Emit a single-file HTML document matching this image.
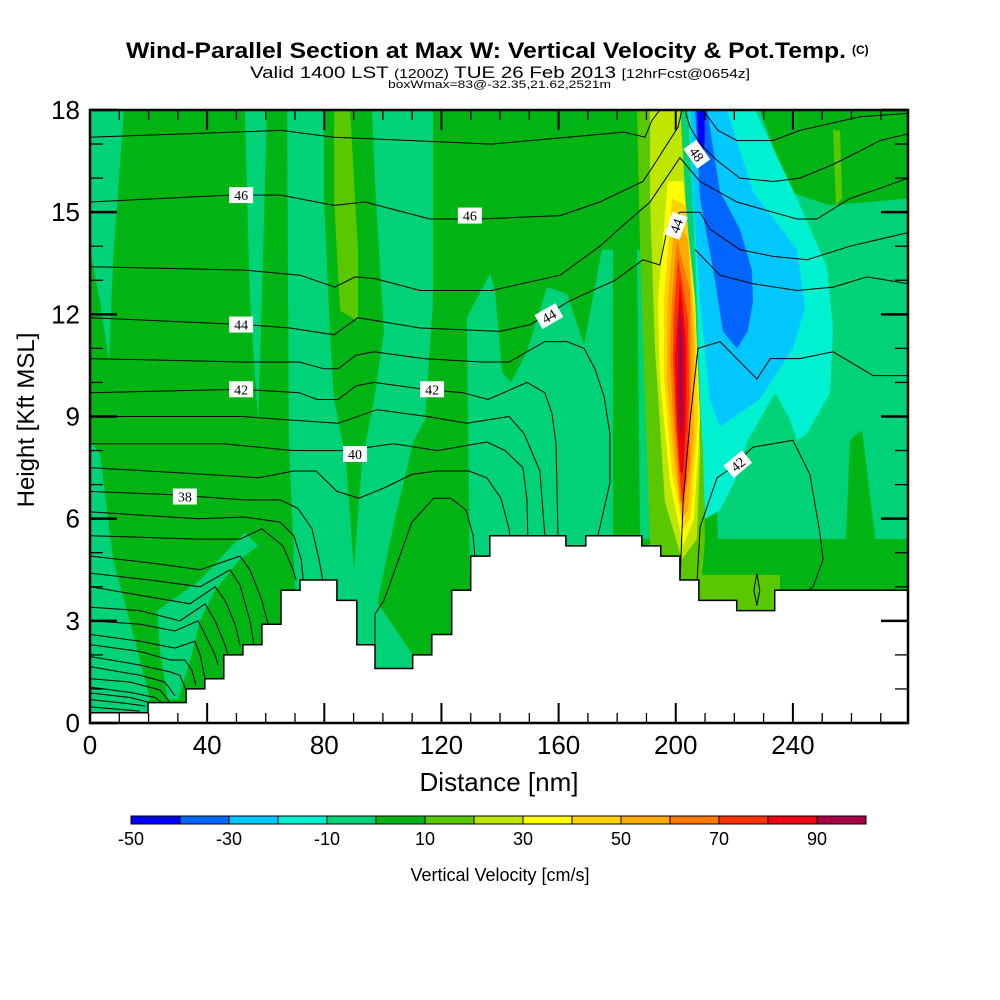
<!DOCTYPE html>
<html><head><meta charset="utf-8">
<style>
html,body{margin:0;padding:0;background:#fff;}
svg{display:block;font-family:"Liberation Sans",sans-serif;}
</style></head>
<body>
<svg id="chart" width="1000" height="1000" viewBox="0 0 1000 1000" xmlns="http://www.w3.org/2000/svg">
  <defs><clipPath id="plotclip"><rect x="90" y="110" width="818" height="613"/></clipPath></defs>
  <g>
    <text x="126" y="58" font-size="22" font-weight="bold" textLength="720" lengthAdjust="spacingAndGlyphs">Wind-Parallel Section at Max W: Vertical Velocity &amp; Pot.Temp.</text>
    <text x="852" y="54" font-size="12" font-weight="bold">(C)</text>
    <text x="250" y="78" font-size="17" textLength="500" lengthAdjust="spacingAndGlyphs">Valid 1400 LST <tspan font-size="13">(1200Z)</tspan> TUE 26 Feb 2013 <tspan font-size="13">[12hrFcst@0654z]</tspan></text>
    <text x="388" y="88" font-size="11" textLength="223" lengthAdjust="spacingAndGlyphs">boxWmax=83@-32.35,21.62,2521m</text>
  </g>
  <g id="field" clip-path="url(#plotclip)"></g>
  <g id="isen" clip-path="url(#plotclip)"></g>
  <g id="terrain"></g>
  <g id="labels"></g>
  <g id="axes"></g>
  <g id="cbar"></g>
  <text x="499" y="791" font-size="26" text-anchor="middle">Distance [nm]</text>
  <text transform="translate(34,420) rotate(-90)" font-size="24" text-anchor="middle">Height [Kft MSL]</text>
  <text x="500" y="881" font-size="18" text-anchor="middle">Vertical Velocity [cm/s]</text>
</svg>
<script>
// ---- data ----
const levelColors = ["#0000ff","#0066ff","#00c8ff","#00f0d2","#00d278","#00b414","#5ac800","#bee600","#ffff00","#ffd200","#ffaa00","#ff7800","#ff3200","#f00014","#aa0046"];
const levelLabels = ["-50","-30","-10","10","30","50","70","90"];
const xTicks = [0,40,80,120,160,200,240];
const yTicks = [0,3,6,9,12,15,18];
const baseLevel = 5;
// regions: [level index, [[nm,kft],...]] painted in order
const regionLevels = [4,4,4,4,4,4,5,6,4,4,4,4,5,5,5,6,3,2,1,0,6,6,7,8,9,10,11,12,13,14];
const regionPts = [
 [[0,18],[11.6,18],[7.9,13.6],[6.5,10.6],[3.4,12.4],[0,13.9]],
 [[0,8.3],[3.4,7.9],[7.9,4.8],[15.4,2.4],[20.5,0.7],[19.8,0.3],[0,0.3]],
 [[22.9,3.3],[37.6,4.2],[48.5,5.2],[52.9,5.6],[57.4,5.2],[51.2,4.8],[42.7,3.9],[37.6,3.0],[34.1,1.8],[30,0.7],[26.6,0.7],[23.9,2.1]],
 [[52.9,18],[60.4,18],[58.7,12.4],[57.4,8.9],[54.6,12.4]],
 [[67.3,18],[117.1,18],[117.1,12.4],[114.4,8.9],[110.6,8.3],[104.1,6.0],[98.3,3.6],[97.6,0.7],[71.7,0.7],[67.9,8.3]],
 [[97.6,3.6],[110.3,2.0],[110.3,1.3],[97.6,1.3]],
 [[79.9,18],[96.3,18],[97.6,15.4],[100.4,11.5],[97,9.5],[92.9,7.7],[90.1,4.5],[87.4,7.7],[83.3,9.5],[81.9,11.5],[79.9,15.4]],
 [[83.3,18],[88.8,18],[91.5,13.9],[91.5,11.8],[85.4,12.1],[83.3,15.4]],
 [[128.7,11.9],[136.6,13.2],[138.3,12.7],[140.7,10.3],[143.7,10.0],[149.2,10.9],[156,12.8],[162.9,12.6],[168.7,11.1],[174.8,13.9],[178.6,13.9],[178.6,4],[129.7,4]],
 [[186.8,13.9],[189.5,13.9],[191.9,5.4],[187.8,5.4]],
 [[221.9,18],[228.7,18],[238.9,15.6],[252.6,15.2],[279.3,15.4],[279.3,4.8],[210,4.8],[209.3,9.5]],
 [[201.8,18],[206.6,18],[212.4,9.5],[211.7,5.4],[208.3,5.4]],
 [[208.3,5.4],[279.3,5.4],[279.3,3.6],[208.3,3.6]],
 [[259.5,8.3],[263.6,8.6],[269,4.8],[257.8,4.8]],
 [[208.3,8.9],[213.4,8.3],[214.4,5.4],[209.3,5.4]],
 [[253.7,17.4],[256.1,17.4],[256.8,15.4],[254.7,15.2]],
 [[204.2,18],[227.1,18],[241.4,15.4],[251.6,13.4],[253.7,11.6],[252.7,9.7],[244.8,8.5],[241.4,8.3],[239,8.9],[233.9,9.7],[228.7,8.9],[224.6,8.3],[220.2,7.1],[215.1,6.25],[210,6.0],[208.3,9.5],[206.6,13.9]],
 [[204.9,18],[217.5,18],[226.4,15.6],[241.4,13.9],[244.1,12.2],[240,11.0],[228.7,9.5],[215.1,8.7],[211.7,9.5],[208.3,12.4],[206,15.4]],
 [[206.6,18],[210.7,18],[215.1,15.6],[221.9,14.5],[226,13.3],[226.4,12.4],[224.6,11.5],[220.9,11.0],[216.1,11.5],[213.4,13.0],[208.3,15.4]],
 [[207.2,18],[209.9,18],[209.9,17.1],[208.9,16.3],[207.6,17.1]],
 [[204.9,4.35],[235.6,4.35],[235.6,3.2],[204.9,3.2]],
 [[186.8,18],[201.8,18],[204.9,12.4],[209.3,8.0],[210,5.4],[208.3,3.6],[201.5,4.2],[191.2,5.2],[189.5,9.5],[187.8,13.9]],
 [[191.2,18],[201.5,18],[205.5,12.4],[208.3,8.0],[207.2,5.4],[202.1,4.8],[196.3,6.5],[192.9,11.0],[191.2,15.4]],
 [[197.3,15.9],[202.5,15.9],[206.6,12.4],[208.3,8.9],[206.2,6.0],[202.5,5.2],[198,7.1],[194.6,10.1],[193.9,12.4]],
 [[198.7,15.4],[203.5,15.2],[206.9,11.5],[207.6,8.9],[204.9,6.0],[202.5,5.7],[198.7,7.4],[196,10.1],[196,12.4]],
 [[199.7,14.9],[204.2,14.2],[206.2,11.2],[206.2,8.3],[204.2,6.25],[202.1,6.0],[199.4,7.7],[197,10.1],[197.3,12.4]],
 [[200.4,14.2],[204.9,12.7],[205.2,10.1],[204.9,7.7],[202.9,6.4],[201.5,6.5],[199.4,8.6],[198,10.7],[198.7,12.4]],
 [[200.8,13.7],[204.2,11.8],[204.6,9.5],[203.5,7.1],[202.1,6.5],[200.1,8.6],[199,10.7],[199.4,12.1]],
 [[201.5,13.0],[203.5,11.2],[203.5,8.9],[202.5,7.3],[201.5,7.4],[200.4,8.9],[199.7,10.7]],
 [[201.5,12.4],[202.5,11.2],[202.5,8.9],[201.8,8.3],[201.1,8.9],[200.8,11.2]]
];
const terrainPts = [[0,0.3],[19.8,0.3],[19.8,0.6],[32.8,0.6],[32.8,1.0],[39.2,1.0],[39.2,1.3],[45.7,1.3],[45.7,2.0],[52.2,2.0],[52.2,2.3],[58.7,2.3],[58.7,2.9],[65.2,2.9],[65.2,3.9],[71.7,3.9],[71.7,4.2],[84.3,4.2],[84.3,3.6],[91.1,3.6],[91.1,2.3],[97.3,2.3],[97.3,1.6],[110.2,1.6],[110.2,2.0],[116.7,2.0],[116.7,2.6],[123.5,2.6],[123.5,3.9],[130,3.9],[130,4.9],[136.5,4.9],[136.5,5.5],[162.5,5.5],[162.5,5.2],[169.3,5.2],[169.3,5.5],[188.4,5.5],[188.4,5.2],[194.9,5.2],[194.9,4.9],[201.4,4.9],[201.4,4.2],[207.9,4.2],[207.9,3.6],[220.8,3.6],[220.8,3.3],[233.8,3.3],[233.8,3.9],[279.3,3.9]];
const isentropes = [
 [[0,17.2],[65.2,17.4],[83.3,17.2],[137.2,17.0],[182.3,17.35],[189.5,17.2],[191.9,17.7],[194.6,18]],
 [[0,15.3],[47.8,15.5],[65.2,15.5],[83.3,15.2],[93.9,15.3],[116.1,14.8],[133.1,14.8],[160.5,14.9],[174.1,15.3],[188.8,15.9],[191.9,16.3],[200.8,17.5],[202.1,18]],
 [[0,13.4],[52.9,13.3],[71.7,13.15],[83.6,12.8],[90.5,13.1],[97.3,13.05],[112.7,12.7],[137.2,12.7],[160.5,13.15],[174.1,14.0],[181.9,14.6],[191.2,15.3],[201.4,16.6],[208.3,15.9],[220.9,15.3],[233.2,15.0],[241.4,14.8],[248.2,14.8],[259.5,15.4],[269.7,15.7],[279.3,16.0]],
 [[203.1,18],[204.9,17.5],[208.3,17.0],[214.4,16.5],[221.9,16.0],[233.2,15.9],[242.4,16.0],[253.7,16.4],[262.9,16.8],[269.7,17.1],[279.3,17.3]],
 [[209.3,18],[214.4,17.4],[220.9,17.1],[233.2,17.1],[242.4,17.4],[262.9,17.8],[279.3,17.9]],
 [[0,11.9],[52.9,11.7],[68.3,11.6],[83.3,11.4],[91.5,11.9],[112.7,11.6],[140,11.5],[150.3,11.7],[163.9,12.4],[179.3,13.0],[188.8,13.6],[194.6,13.45],[197.3,14.6],[201.4,15.0],[208.3,15.0],[211.7,14.5],[221.9,13.9],[233.2,13.7],[244.8,13.6],[259.5,14.0],[279.3,14.4]],
 [[206.6,13.9],[215.1,13.15],[226.4,12.9],[241.4,12.7],[253.7,12.8],[265.3,13.1],[279.3,12.9]],
 [[201.5,4.2],[202.5,6.5],[204.9,8.9],[207.6,11.0],[215.1,11.2],[227.7,10.1],[232.3,10.7],[242.4,10.7],[253.7,10.9],[267.4,10.2],[279.3,10.2]],
 [[0,10.7],[51.9,10.6],[71.4,10.6],[79.9,10.4],[84.7,10.4],[90.8,10.8],[97,10.9],[114,10.7],[133.5,10.6],[143.1,10.6],[155.3,11.2],[162.9,11.2],[168.7,11.0],[172.4,10.4],[175.5,9.6],[177.5,8.5],[177.5,7.05],[174.1,5.75],[173.4,5.5]],
 [[0,9.7],[51.9,9.8],[71.4,9.7],[77.5,9.5],[84.7,9.5],[90.8,9.9],[97,10.0],[114,9.8],[127.3,9.7],[135.9,9.5],[149.2,10.0],[155.3,9.7],[157.7,9.1],[159.1,8.2],[159.8,5.5]],
 [[0,9.0],[51.9,9.0],[67.6,8.9],[84.7,8.8],[98,9.2],[115.1,9.0],[128.7,8.8],[143.1,9.0],[148.2,8.5],[153.6,7.4],[155.3,5.5]],
 [[0,8.2],[45.4,8.2],[69.6,8.0],[86.7,8.0],[103.8,8.2],[118.5,8.0],[135.5,8.25],[141.7,8.0],[147.8,7.5],[149.2,6.55],[149.5,5.5]],
 [[0,7.5],[39.3,7.3],[57.7,7.2],[69.6,7.4],[77.2,7.4],[84.3,6.8],[91.8,6.6],[100.4,6.9],[109.9,7.3],[118.5,7.4],[129.4,7.4],[135.5,7.2],[140.3,6.6],[143.1,5.7],[143.4,5.4]],
 [[0,6.8],[28.3,6.7],[52.6,6.55],[64.9,6.55],[71,6.3],[75.8,5.7],[78.2,4.8],[79.5,4.2]],
 [[97.3,2.05],[97.3,3.2],[100.4,3.6],[109.9,5.9],[117.4,6.6],[123.2,6.6],[128.4,6.25],[130.8,5.5],[131.8,4.5]],
 [[0.3,6.2],[36.9,6.0],[52.6,6.05],[64.9,5.9],[69.6,5.5],[72.1,4.8],[72.8,4.2]],
 [[0.3,5.5],[36.9,5.4],[51.2,5.4],[58.7,5.7],[65.9,5.2],[69.3,4.5],[70.4,4.2]],
 [[0.3,4.9],[20.5,4.7],[37.6,4.5],[51.2,4.9],[54.6,4.5],[58.7,3.6],[60.8,2.9]],
 [[0.3,4.4],[20.5,4.2],[37.6,4.0],[47.8,4.5],[51.2,4.05],[54.6,3.0],[56,2.3]],
 [[0.3,4.0],[20.5,3.7],[34.1,3.5],[42.7,4.0],[46.1,3.6],[49.5,2.9],[51.2,2.3]],
 [[0.3,3.4],[17.1,3.3],[30.7,3.0],[39.3,3.5],[42.7,3.0],[46.1,2.3],[47.1,2.0]],
 [[0.3,3.0],[17.1,2.9],[29,2.7],[36.9,3.0],[39.3,2.6],[42.7,2.0],[43.7,1.7]],
 [[0.3,2.6],[17.1,2.4],[29,2.2],[35.8,2.4],[37.6,2.0],[39.3,1.3]],
 [[0.3,2.3],[17.1,2.1],[27.3,1.85],[32.4,1.85],[34.8,1.55],[36.2,1.1]],
 [[0.3,1.95],[17.1,1.7],[27.3,1.5],[30.7,1.4],[32.8,0.97]],
 [[0.3,1.65],[17.1,1.4],[25.6,1.2],[29,0.8]],
 [[0.3,1.3],[13.7,1.2],[23.9,0.97],[27.3,0.6]],
 [[0.3,1.05],[13.7,0.9],[22.2,0.75],[24.6,0.6]],
 [[0.3,0.88],[13.7,0.75],[20.5,0.6]],
 [[0.3,0.68],[11.9,0.58],[18.8,0.5]],
 [[0.3,0.47],[10.2,0.4],[17.1,0.35]],
 [[207.2,4.0],[208.3,5.75],[214.1,7.2],[217.5,7.4],[226.4,8.1],[240,8.3],[245.8,7.3],[249.2,5.6],[250.3,4.8],[246.9,4.0],[245.1,3.9]],
 [[227.7,4.4],[228.7,3.9],[227.7,3.45],[226.7,3.9],[227.7,4.4]]
];
const labelText = ["46","46","44","44","42","42","40","38","48","44","42"];
const labelNm   = [51.6,129.7,51.6,156.7,51.6,116.8,90.5,32.4,207.2,200.1,221.2];
const labelKft  = [15.5,14.9,11.7,11.95,9.8,9.8,7.9,6.65,16.7,14.6,7.6];
const labelRot  = [0,0,0,-30,0,0,0,0,55,-70,-40];

// ---- scales ----
const X0=90, X1=908, Y0=723, Y1=110, XMAX=279.3, YMAX=18;
const xs = v => X0 + v*(X1-X0)/XMAX;
const ys = v => Y0 - v*(Y0-Y1)/YMAX;
const NS="http://www.w3.org/2000/svg";
function mk(tag, attrs, parent){const e=document.createElementNS(NS,tag);for(const k in attrs)e.setAttribute(k,attrs[k]);parent.appendChild(e);return e;}
const pstr = pts => pts.map(p=>xs(p[0]).toFixed(1)+","+ys(p[1]).toFixed(1)).join(" ");

const field=document.getElementById('field');
const bg=mk('rect',{x:X0,y:Y1,width:X1-X0,height:Y0-Y1,fill:levelColors[baseLevel]},field);


regionPts.forEach((pts,i)=>{
  const p=mk('polygon',{points:pstr(pts),fill:levelColors[regionLevels[i]]},field);
  
  
});
const isen=document.getElementById('isen');
isentropes.forEach(pts=>{
  const l=mk('polyline',{points:pstr(pts),fill:'none',stroke:'#000','stroke-width':1},isen);
  
  
});
const ter=document.getElementById('terrain');
const tp=terrainPts.concat([[XMAX,0],[0,0]]);
const tf=mk('polygon',{points:pstr(tp),fill:'#fff'},ter);


const tl=mk('polyline',{points:pstr(terrainPts),fill:'none',stroke:'#000','stroke-width':1.5},ter);



const lab=document.getElementById('labels');
labelText.forEach((t,i)=>{
  const cx=xs(labelNm[i]), cy=ys(labelKft[i]);
  const g=mk('g',{transform:`translate(${cx},${cy}) rotate(${labelRot[i]})`},lab);
  
  
  mk('rect',{x:-12,y:-8,width:24,height:16,fill:'#fff'},g);
  const tx=mk('text',{x:0,y:5,'font-size':14,'text-anchor':'middle','font-family':'Liberation Serif, serif'},g);
  tx.textContent=t;
});

// axes
const ax=document.getElementById('axes');
const frame=mk('rect',{x:X0,y:Y1,width:X1-X0,height:Y0-Y1,fill:'none',stroke:'#000','stroke-width':2.5},ax);


for(let v=0; v<=270; v+=10){
  const major = v%40===0, len = major?20:10, x=xs(v);
  mk('line',{x1:x,y1:Y0,x2:x,y2:Y0-len,stroke:'#000','stroke-width':major?2:1.3},ax);
  mk('line',{x1:x,y1:Y1,x2:x,y2:Y1+len,stroke:'#000','stroke-width':major?2:1.3},ax);
}
for(let v=0; v<=18; v+=1){
  const major=v%3===0, len=major?27:13, y=ys(v);
  mk('line',{x1:X0,y1:y,x2:X0+len,y2:y,stroke:'#000','stroke-width':major?2.5:1.3},ax);
  mk('line',{x1:X1,y1:y,x2:X1-len,y2:y,stroke:'#000','stroke-width':major?2.5:1.3},ax);
}
xTicks.forEach(v=>{
  const t=mk('text',{x:xs(v),y:754,'font-size':26,'text-anchor':'middle'},ax);
  
  
  t.textContent=String(v);
});
yTicks.forEach(v=>{
  const t=mk('text',{x:80,y:ys(v)+9,'font-size':26,'text-anchor':'end'},ax);
  
  
  t.textContent=String(v);
});

// colorbar
const cb=document.getElementById('cbar');
const cbX=131, cbW=49;
levelColors.forEach((c,i)=>{
  const r=mk('rect',{x:cbX+i*cbW,y:816,width:cbW,height:8,fill:c,stroke:'#000','stroke-width':1},cb);
  
  
});
levelLabels.forEach((t,i)=>{
  const tx=mk('text',{x:cbX+i*2*cbW,y:845,'font-size':18,'text-anchor':'middle'},cb);
  
  
  tx.textContent=t;
});
</script>
</body></html>
